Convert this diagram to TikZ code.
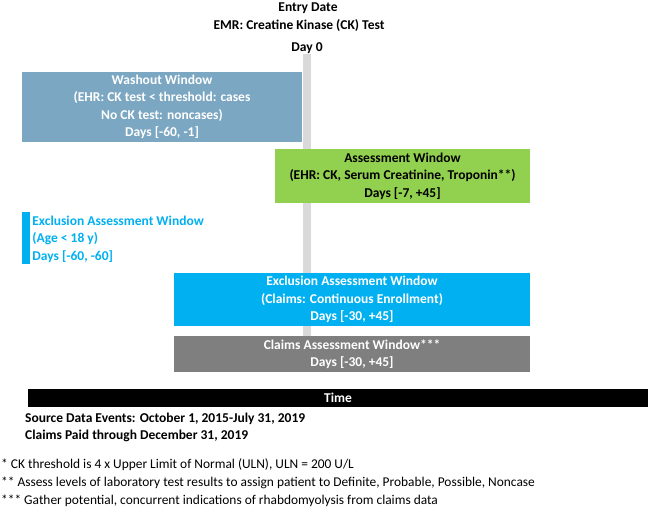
\documentclass[tikz,border=0pt]{standalone}
\usepackage{fontspec}
\setmainfont{Carlito}
\usetikzlibrary{positioning}
\definecolor{washblue}{HTML}{7BA7C2}
\definecolor{assessgreen}{HTML}{92D050}
\definecolor{exclblue}{HTML}{00B0F0}
\definecolor{claimgray}{HTML}{7F7F7F}
\definecolor{daygray}{HTML}{D9D9D9}

\begin{document}
\begin{tikzpicture}[x=1pt, y=-1pt,
    txt/.style={font=\fontsize{13.5}{17.5}\selectfont\bfseries, inner sep=0pt, align=center},
    window/.style={txt, text=white, minimum width=#1},
    note/.style={font=\fontsize{13.4}{18}\selectfont, inner sep=0pt, align=left}]
        \useasboundingbox (0,0) rectangle (650,507);
        % Day 0 marker line
        \fill[daygray] (303,54) rectangle (311,340);
        % Header
        \node[txt] (entry) at (308,8) {Entry Date};
        \node[txt] (emr) at (299,26) {EMR: Creatine Kinase (CK) Test};
        \node[txt] (day0) at (307,48) {Day 0};
        % Windows
        \node[window=280pt, fill=washblue, minimum height=70pt] (washout) at (162,107)
            {Washout Window\\(EHR: CK test < threshold: cases\\No CK test: noncases)\\Days [-60, -1]};
        \node[window=255pt, fill=assessgreen, text=black, minimum height=54pt] (assess) at (402.5,176)
            {Assessment Window\\(EHR: CK, Serum Creatinine, Troponin**)\\Days [-7, +45]};
        \node[fill=exclblue, minimum width=8pt, minimum height=52pt, inner sep=0pt] (exclBar) at (26,238) {};
        \node[txt, text=exclblue, align=left, right=2pt of exclBar, yshift=-1pt] (exclAge)
            {Exclusion Assessment Window\\(Age < 18 y)\\Days [-60, -60]};
        \node[window=356pt, fill=exclblue, minimum height=53pt] (exclClaims) at (352,299.5)
            {Exclusion Assessment Window\\(Claims: Continuous Enrollment)\\Days [-30, +45]};
        \node[window=356pt, fill=claimgray, minimum height=36pt] (claims) at (352,354)
            {Claims Assessment Window***\\Days [-30, +45]};
        % Time axis
        \node[window=620pt, fill=black, minimum height=18pt] (timebar) at (338,398) {Time};
        \node[txt, align=left, anchor=west] (source) at (25,427.5)
            {Source Data Events: October 1, 2015-July 31, 2019\\Claims Paid through December 31, 2019};
        % Footnotes
        \node[note, anchor=west] (notes) at (1,482.5)
            {* CK threshold is 4 x Upper Limit of Normal (ULN), ULN = 200 U/L\\
             ** Assess levels of laboratory test results to assign patient to Definite, Probable, Possible, Noncase\\
             *** Gather potential, concurrent indications of rhabdomyolysis from claims data};
\end{tikzpicture}
\end{document}
